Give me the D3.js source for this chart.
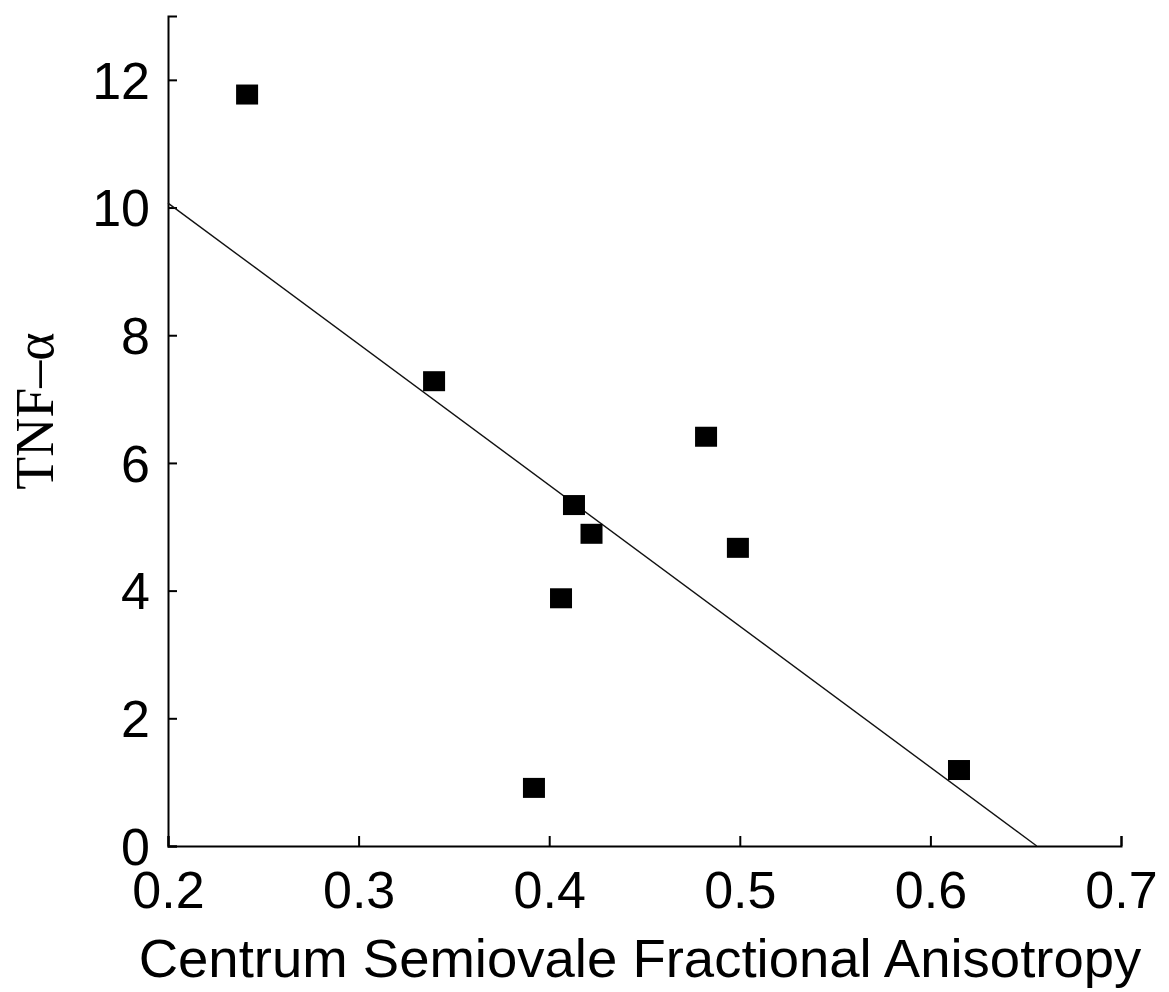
<!DOCTYPE html>
<html>
<head>
<meta charset="utf-8">
<script src="https://cdn.jsdelivr.net/npm/d3@7"></script>
<style>
  body { margin: 0; background: #fff; }
  svg { display: block; }
</style>
</head>
<body>
<div id="container"><svg></svg></div>
<script>
// data
let faValues = [0.2415, 0.3396, 0.413, 0.4222, 0.4062, 0.392, 0.4823, 0.499, 0.615];
let tnfValues = [11.77, 7.28, 5.34, 4.89, 3.88, 0.91, 6.41, 4.67, 1.19];
let xTicks = [0.2, 0.3, 0.4, 0.5, 0.6, 0.7];
let yTicks = [0, 2, 4, 6, 8, 10, 12];
// fitted line endpoints (x, y)
let fitX = [0.2, 0.6558];
let fitY = [10.07, 0];

let width = 1169;
let height = 992;
let margin = {top: 16, right: 48, bottom: 146, left: 168};

let svg = d3.select('#container').select('svg')
    .attr('width', width)
    .attr('height', height);

let x = d3.scaleLinear().domain([0.2, 0.7]).range([margin.left, width - margin.right]);
let y = d3.scaleLinear().domain([0, 13]).range([height - margin.bottom, margin.top]);

// axes, ticks pointing inward
let xAxis = d3.axisBottom(x)
    .tickValues(xTicks)
    .tickFormat(d3.format('.1f'))
    .tickSizeInner(-10)
    .tickSizeOuter(-10)
    .tickPadding(25);

let yAxis = d3.axisLeft(y)
    .tickValues(yTicks)
    .tickFormat(d3.format('d'))
    .tickSizeInner(-9)
    .tickSizeOuter(-9)
    .tickPadding(18);

let gx = svg.append('g')
    .attr('transform', `translate(0,${height - margin.bottom})`)
    .call(xAxis);

let gy = svg.append('g')
    .attr('transform', `translate(${margin.left},0)`)
    .call(yAxis);

[gx, gy].forEach(g => {
    g.selectAll('path, line').attr('stroke', '#000').attr('stroke-width', 2);
    g.selectAll('text')
        .attr('fill', '#000')
        .attr('font-family', 'Liberation Sans, Arial, sans-serif')
        .attr('font-size', 52);
});
gx.selectAll('text').attr('dy', '0.71em');
gy.selectAll('text').attr('dy', '0.35em');

// regression line
svg.append('line')
    .attr('x1', x(fitX[0]))
    .attr('y1', y(fitY[0]))
    .attr('x2', x(fitX[1]))
    .attr('y2', y(fitY[1]))
    .attr('stroke', '#111')
    .attr('stroke-width', 1.4);

// points
let pts = faValues.map((v, i) => ({fa: v, tnf: tnfValues[i]}));
svg.append('g')
    .selectAll('rect')
    .data(pts)
    .join('rect')
    .attr('x', d => x(d.fa) - 11)
    .attr('y', d => y(d.tnf) - 10)
    .attr('width', 22)
    .attr('height', 20)
    .attr('fill', '#000');

// axis titles
svg.append('text')
    .attr('x', 640)
    .attr('y', 977)
    .attr('text-anchor', 'middle')
    .attr('font-family', 'Liberation Sans, Arial, sans-serif')
    .attr('font-size', 54.5)
    .attr('fill', '#000')
    .text('Centrum Semiovale Fractional Anisotropy');

svg.append('text')
    .attr('transform', 'translate(53,411) rotate(-90)')
    .attr('text-anchor', 'middle')
    .attr('font-family', 'Liberation Serif, Times New Roman, serif')
    .attr('font-size', 54)
    .attr('fill', '#000')
    .text('TNF–α');
</script>
</body>
</html>
